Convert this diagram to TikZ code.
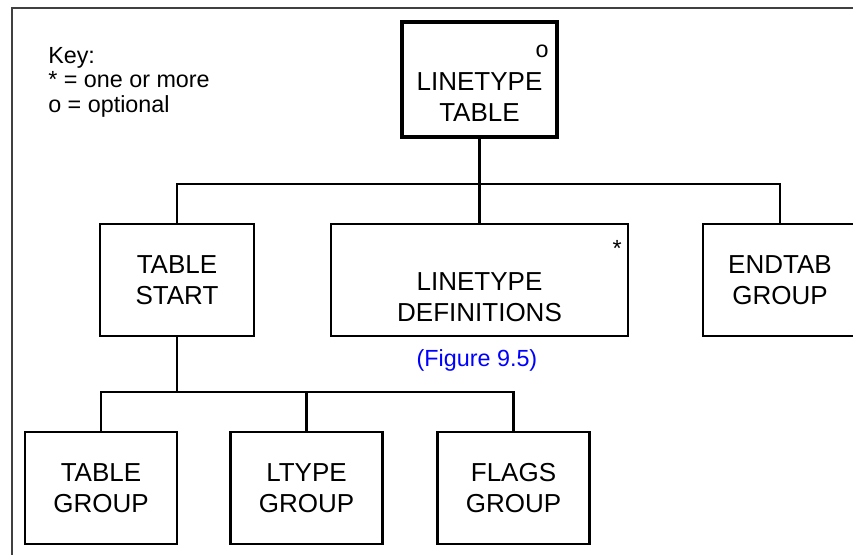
\documentclass[tikz,border=0pt]{standalone}
\usepackage{fontspec}
\setmainfont{Liberation Sans}
\usetikzlibrary{calc}
\usetikzlibrary{positioning}
\tikzset{block/.style={draw, rectangle, text centered, align=center, line width=1.6pt, font=\fontsize{19.5}{23.25}\selectfont, minimum height=84pt}}
\tikzset{connect/.style={draw, line width=1.6pt}}
\tikzset{marker/.style={font=\fontsize{17.5}{18.5}\selectfont, inner sep=0pt}}

\begin{document}
\begin{tikzpicture}[x=0.75pt,y=-0.75pt]

\useasboundingbox (0,0) rectangle (853,555);
\clip (0,0) rectangle (853,555);

%frame
\draw[line width=0.8pt, black!75] (12,565) |- (865,8);

%key
\node[marker, anchor=north west, align=left] (key) at (48,47) {Key:\\* = one or more\\o = optional};

%top block
\node[block, minimum width=116.25pt, minimum height=86.25pt, line width=3pt] (root) at (479.5,79.5) {\strut\\LINETYPE\\TABLE};
\node[marker] (rootmark) at ($(root.north east)+(-17,31)$) {o};

%middle row
\node[block, minimum width=115.5pt] (tstart) at (177,280) {TABLE\\START};
\node[block, minimum width=222.75pt] (ldefs) at (479.5,280) {\strut\\LINETYPE\\DEFINITIONS};
\node[marker] (ldefsmark) at ($(ldefs.north east)+(-12,26)$) {*};
\node[block, minimum width=115.5pt] (endtab) at (780,280) {ENDTAB\\GROUP};
\node[marker, text=blue] (figref) at (477,360) {(Figure 9.5)};

%bottom row
\node[block, minimum width=114pt] (tgroup) at (101,488) {TABLE\\GROUP};
\node[block, minimum width=114pt] (ltgroup) at (306.5,488) {LTYPE\\GROUP};
\node[block, minimum width=114pt] (fgroup) at (513.5,488) {FLAGS\\GROUP};

%connections
\coordinate (topbus) at (479.5,184);
\coordinate (lowbus) at (177,392);
\path[connect] (root.south) -- (topbus);
\path[connect] (tstart.north) |- (topbus) -| (endtab.north);
\path[connect] (topbus) -- (ldefs.north);
\path[connect] (tstart.south) -- (lowbus);
\path[connect] (tgroup.north) |- (lowbus) -| (fgroup.north);
\path[connect] (ltgroup.north) -- (ltgroup.north |- lowbus);

\end{tikzpicture}
\end{document}
